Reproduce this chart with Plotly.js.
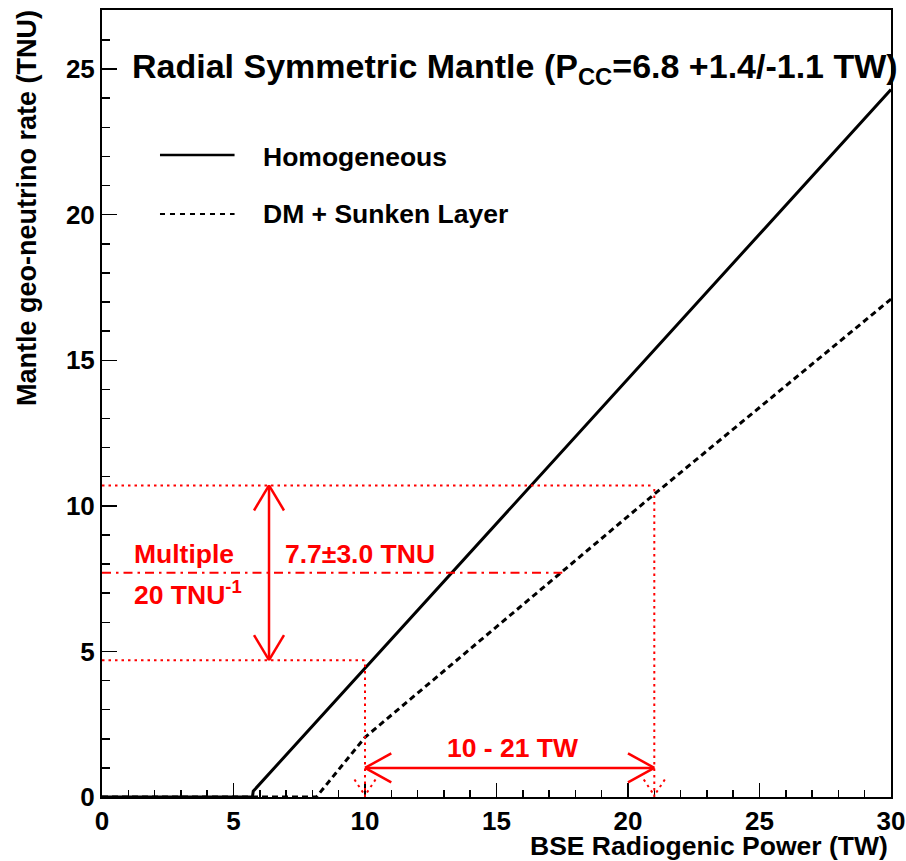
<!DOCTYPE html>
<html>
<head>
<meta charset="utf-8">
<script src="https://cdn.plot.ly/plotly-3.0.1.min.js"></script>
<style>html,body{margin:0;padding:0;background:#fff;}#chart{width:906px;height:861px;}</style>
</head>
<body>
<div id="chart"></div>
<script>
// ---- data ----
const seriesNames = ["Homogeneous", "DM + Sunken Layer"];
const homX = [0, 5.72, 5.75, 30];
const homY = [0, 0, 0.2, 24.3];
const dmX = [0, 8.15, 10, 21, 30];
const dmY = [0, 0, 2.05, 10.4, 17.1];

const rateCentral = 7.7;
const rateErr = 3.0;
const powerLow = 10;
const powerHigh = 21;
const rateArrowX = 6.35;
const powerArrowY = 1.0;
const dashDotEndX = 17.5;

const xTicks = [0, 5, 10, 15, 20, 25, 30];
const yTicks = [0, 5, 10, 15, 20, 25];

const titleText = "Radial Symmetric Mantle (P<sub>CC</sub>=6.8 +1.4/-1.1 TW)";
const xTitle = "BSE Radiogenic Power (TW)";
const yTitle = "Mantle geo-neutrino rate (TNU)";
const labelMultiple = "Multiple";
const labelInverse = "20 TNU<sup>-1</sup>";
const labelRate = "7.7\u00b13.0 TNU";
const labelPower = "10 - 21 TW";

// ---- build ----
const FONT = "Liberation Sans, Arial, Helvetica, sans-serif";
const RED = "#ff0000";
const rateLow = rateCentral - rateErr;
const rateHigh = rateCentral + rateErr;

const traces = [
  {x: homX, y: homY, mode: "lines", name: seriesNames[0], line: {color: "#000", width: 3}, showlegend: false},
  {x: dmX, y: dmY, mode: "lines", name: seriesNames[1], line: {color: "#000", width: 3, dash: "6px,4px"}, showlegend: false}
];

function seg(x0, y0, x1, y1, dash, w) {
  return {type: "line", xref: "x", yref: "y", x0, y0, x1, y1, layer: "above",
          line: {color: RED, width: w || 2, dash: dash || "solid"}};
}
const DOT = "2.5px,4px";
const hx = 0.57, hy = 0.86;   // vertical arrow head half width / height (data units)
const ax = 1.0, ay = 0.5;     // horizontal arrow head length / half height
const vx = 0.4, vy = 0.6;     // small dotted arrow heads on the axis
const shapes = [
  seg(0, rateHigh, powerHigh, rateHigh, DOT),
  seg(0, rateLow, powerLow, rateLow, DOT),
  seg(powerLow, 0, powerLow, rateLow, DOT),
  seg(powerHigh, 0, powerHigh, rateHigh, DOT),
  seg(0, rateCentral, dashDotEndX, rateCentral, "9px,5px,2.5px,5px"),
  // vertical double arrow
  seg(rateArrowX, rateLow, rateArrowX, rateHigh, "solid", 2.5),
  seg(rateArrowX, rateHigh, rateArrowX - hx, rateHigh - hy, "solid", 2.5),
  seg(rateArrowX, rateHigh, rateArrowX + hx, rateHigh - hy, "solid", 2.5),
  seg(rateArrowX, rateLow, rateArrowX - hx, rateLow + hy, "solid", 2.5),
  seg(rateArrowX, rateLow, rateArrowX + hx, rateLow + hy, "solid", 2.5),
  // horizontal double arrow
  seg(powerLow, powerArrowY, powerHigh, powerArrowY, "solid", 2.5),
  seg(powerLow, powerArrowY, powerLow + ax, powerArrowY + ay, "solid", 2.5),
  seg(powerLow, powerArrowY, powerLow + ax, powerArrowY - ay, "solid", 2.5),
  seg(powerHigh, powerArrowY, powerHigh - ax, powerArrowY + ay, "solid", 2.5),
  seg(powerHigh, powerArrowY, powerHigh - ax, powerArrowY - ay, "solid", 2.5),
  // dotted arrow heads at the axis
  seg(powerLow - vx, vy, powerLow, 0.05, DOT),
  seg(powerLow + vx, vy, powerLow, 0.05, DOT),
  seg(powerHigh - vx, vy, powerHigh, 0.05, DOT),
  seg(powerHigh + vx, vy, powerHigh, 0.05, DOT),
  // legend samples
  {type: "line", xref: "paper", yref: "paper", x0: 0.0735, x1: 0.168, y0: 0.8158, y1: 0.8158, line: {color: "#000", width: 2.5}},
  {type: "line", xref: "paper", yref: "paper", x0: 0.0735, x1: 0.168, y0: 0.7408, y1: 0.7408, line: {color: "#000", width: 2, dash: "5px,5px"}}
];

function txt(text, x, y, color, size, xanchor, extra) {
  return Object.assign({text, x, y, xref: "x", yref: "y", showarrow: false, xanchor: xanchor || "left", yanchor: "middle",
    font: {family: FONT, size: size || 26.5, color: color || RED, weight: "bold"}}, extra || {});
}
const annotations = [
  Object.assign(txt(titleText, 0.0355, 0.926, "#000", 34, "left"), {xref: "paper", yref: "paper"}),
  Object.assign(txt(seriesNames[0], 0.2015, 0.8133, "#000", 26.5, "left"), {xref: "paper", yref: "paper"}),
  Object.assign(txt(seriesNames[1], 0.2015, 0.7408, "#000", 26.5, "left"), {xref: "paper", yref: "paper"}),
  txt(labelMultiple, 1.14, 8.35),
  txt(labelInverse, 1.14, 7.0),
  txt(labelRate, 6.88, 8.35),
  txt(labelPower, 15.6, 1.68, RED, 26.5, "center"),
  {text: xTitle, xref: "paper", yref: "paper", x: 0.9987, y: -0.0625, xanchor: "right", yanchor: "middle", showarrow: false,
   font: {family: FONT, size: 26.5, color: "#000", weight: "bold"}},
  {text: yTitle, xref: "paper", yref: "paper", x: -0.095, y: 1.0025, xanchor: "center", yanchor: "top", showarrow: false, textangle: -90,
   font: {family: FONT, size: 27, color: "#000", weight: "bold"}}
];

const axisCommon = {
  showgrid: false, zeroline: false, showline: true, linecolor: "#000", linewidth: 2, mirror: true,
  ticks: "inside", tickcolor: "#000", tickwidth: 1.5,
  tickfont: {family: FONT, size: 26, color: "#000", weight: "bold"}
};
const layout = {
  width: 906, height: 861,
  margin: {l: 102, r: 15, t: 10, b: 64},
  paper_bgcolor: "#fff", plot_bgcolor: "#fff",
  showlegend: false,
  xaxis: Object.assign({}, axisCommon, {range: [0, 30], tickvals: xTicks, ticktext: xTicks.map(String), ticklen: 14,
    minor: {dtick: 1, tick0: 0, ticks: "inside", ticklen: 7, tickcolor: "#000", tickwidth: 1.5}}),
  yaxis: Object.assign({}, axisCommon, {range: [0, 27.03], tickvals: yTicks, ticktext: yTicks.map(String), ticklen: 15,
    minor: {dtick: 1, tick0: 0, ticks: "inside", ticklen: 8, tickcolor: "#000", tickwidth: 1.5}}),
  shapes, annotations
};
Plotly.newPlot("chart", traces, layout, {displayModeBar: false, staticPlot: true});
</script>
</body>
</html>
